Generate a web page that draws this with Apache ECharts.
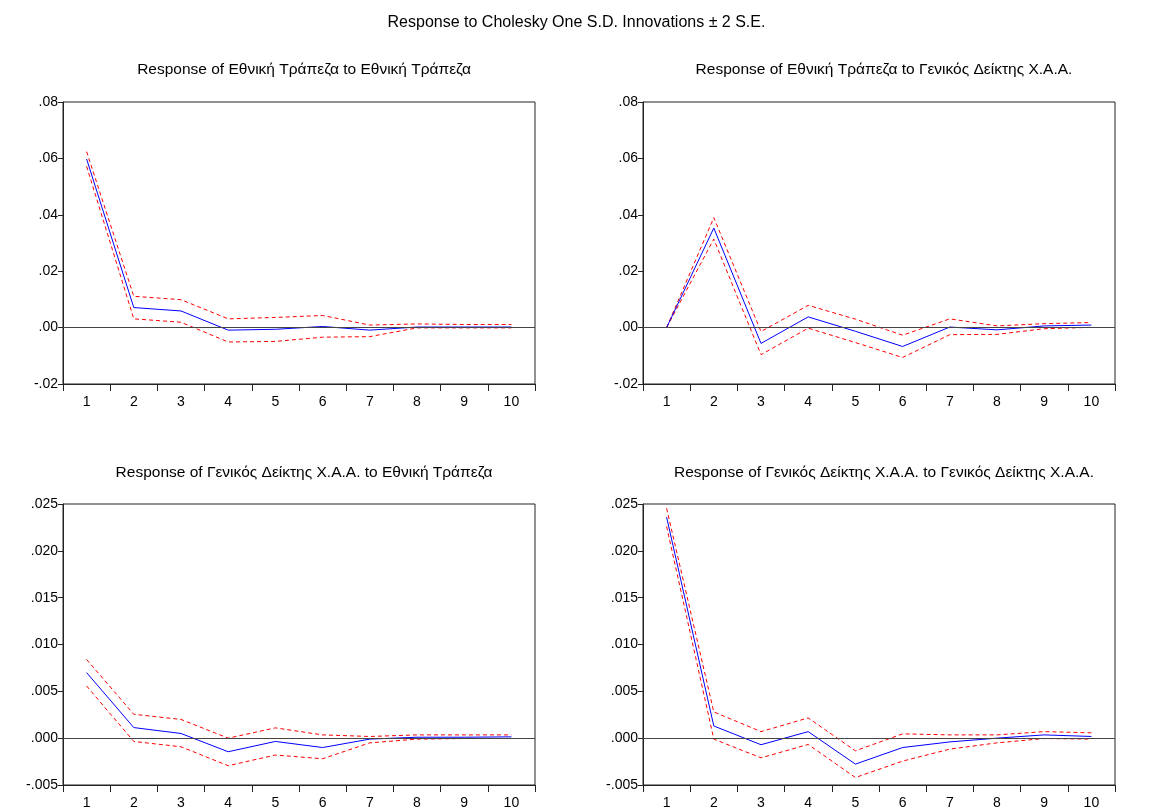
<!DOCTYPE html>
<html>
<head>
<meta charset="utf-8">
<script src="https://cdn.jsdelivr.net/npm/echarts@6/dist/echarts.min.js"></script>
<style>html,body{margin:0;padding:0;background:#fff}#c{width:1153px;height:810px}</style>
</head>
<body>
<div id="c"></div>
<script>
const periods = ['1','2','3','4','5','6','7','8','9','10'];

const mainTitle = 'Response to Cholesky One S.D. Innovations \u00b1 2 S.E.';
const panelTitles = [
  'Response of Εθνική Τράπεζα to Εθνική Τράπεζα',
  'Response of Εθνική Τράπεζα to Γενικός Δείκτης Χ.Α.Α.',
  'Response of Γενικός Δείκτης Χ.Α.Α. to Εθνική Τράπεζα',
  'Response of Γενικός Δείκτης Χ.Α.Α. to Γενικός Δείκτης Χ.Α.Α.'
];

// Panel 1: Εθνική Τράπεζα -> Εθνική Τράπεζα
const p1Resp  = [0.0598, 0.0071, 0.0059, -0.0009, -0.0006, 0.0004, -0.0009, 0.0002, 0.0002, 0.0002];
const p1Upper = [0.0624, 0.0111, 0.0099, 0.0031, 0.0036, 0.0043, 0.0009, 0.0013, 0.0011, 0.0011];
const p1Lower = [0.0572, 0.0031, 0.0019, -0.0051, -0.0049, -0.0034, -0.0032, -0.0001, -0.0001, -0.0001];

// Panel 2: Εθνική Τράπεζα -> Γενικός Δείκτης
const p2Resp  = [0.0, 0.0353, -0.0056, 0.0038, -0.0013, -0.0067, 0.0002, -0.0008, 0.0006, 0.0009];
const p2Upper = [0.0, 0.0390, -0.0014, 0.0079, 0.0030, -0.0027, 0.0031, 0.0006, 0.0014, 0.0018];
const p2Lower = [0.0, 0.0314, -0.0096, -0.0002, -0.0053, -0.0106, -0.0025, -0.0024, -0.0004, 0.0001];

// Panel 3: Γενικός Δείκτης -> Εθνική Τράπεζα
const p3Resp  = [0.0070, 0.00113, 0.0005, -0.00145, -0.00035, -0.0010, -0.0001, 0.0001, 0.0001, 0.00014];
const p3Upper = [0.0084, 0.00255, 0.0020, 0.0000, 0.0011, 0.00035, 0.00018, 0.00035, 0.00035, 0.00035];
const p3Lower = [0.00557, -0.00035, -0.00092, -0.00294, -0.0018, -0.0022, -0.0005, -0.0001, -0.00004, -0.00004];

// Panel 4: Γενικός Δείκτης -> Γενικός Δείκτης
const p4Resp  = [0.0236, 0.0013, -0.0007, 0.0007, -0.00277, -0.0010, -0.0004, 0.0000, 0.00035, 0.00018];
const p4Upper = [0.02454, 0.0028, 0.0007, 0.00216, -0.00135, 0.00046, 0.00035, 0.00035, 0.0007, 0.00057];
const p4Lower = [0.0226, -0.0001, -0.0021, -0.00067, -0.0042, -0.00245, -0.00117, -0.0005, -0.00004, -0.0001];

const yTop    = [0.08, 0.08, 0.025, 0.025];
const yBottom = [-0.02, -0.02, -0.005, -0.005];
const yStep   = [0.02, 0.02, 0.005, 0.005];
const yDigits = [2, 2, 3, 3];

const panels = [
  [p1Resp, p1Upper, p1Lower],
  [p2Resp, p2Upper, p2Lower],
  [p3Resp, p3Upper, p3Lower],
  [p4Resp, p4Upper, p4Lower]
];

const FONT = '"Liberation Sans", Arial, sans-serif';
const gridPos = [
  {left: 63, top: 102},
  {left: 643, top: 102},
  {left: 63, top: 504},
  {left: 643, top: 504}
];
const titlePos = [
  {x: 299, y: 57},
  {x: 879, y: 57},
  {x: 299, y: 460},
  {x: 879, y: 460}
];

function fmt(d) {
  return function (v) {
    let s = Number(v).toFixed(d);
    return s.replace(/^(-?)0\./, '$1.');
  };
}

const option = {
  backgroundColor: '#fff',
  animation: false,
  title: [{
    text: mainTitle, left: 'center', top: 10,
    textStyle: {fontFamily: FONT, fontSize: 16, fontWeight: 'normal', color: '#000'}
  }].concat(panelTitles.map((t, i) => ({
    text: t, left: titlePos[i].x, top: titlePos[i].y, textAlign: 'center',
    textStyle: {fontFamily: FONT, fontSize: 15.5, fontWeight: 'normal', color: '#000'}
  }))),
  grid: gridPos.map(g => ({
    left: g.left, top: g.top, width: 472, height: 282,
    show: true, borderColor: '#222', borderWidth: 1, backgroundColor: '#fff'
  })),
  xAxis: panels.map((p, i) => ({
    type: 'category', gridIndex: i, data: periods, boundaryGap: true,
    axisLine: {show: true, onZero: false, lineStyle: {color: '#222', width: 1}},
    axisTick: {show: true, inside: false, length: 7, alignWithLabel: false, lineStyle: {color: '#222'}},
    axisLabel: {fontFamily: FONT, fontSize: 14, color: '#000', margin: 11, interval: 0},
    splitLine: {show: false}
  })),
  yAxis: panels.map((p, i) => ({
    type: 'value', gridIndex: i, min: yBottom[i], max: yTop[i], interval: yStep[i],
    axisLine: {show: true, lineStyle: {color: '#222', width: 1}},
    axisTick: {show: true, inside: false, length: 5, lineStyle: {color: '#222'}},
    axisLabel: {fontFamily: FONT, fontSize: 14, color: '#000', margin: 5, formatter: fmt(yDigits[i])},
    splitLine: {show: false}
  })),
  series: []
};

panels.forEach((p, i) => {
  option.series.push({
    type: 'line', xAxisIndex: i, yAxisIndex: i, data: p[1], symbol: 'none',
    lineStyle: {color: '#ff0000', width: 1, type: [4, 3]}, z: 3
  });
  option.series.push({
    type: 'line', xAxisIndex: i, yAxisIndex: i, data: p[2], symbol: 'none',
    lineStyle: {color: '#ff0000', width: 1, type: [4, 3]}, z: 3
  });
  option.series.push({
    type: 'line', xAxisIndex: i, yAxisIndex: i, data: p[0], symbol: 'none',
    lineStyle: {color: '#0000ff', width: 1}, z: 4,
    markLine: {
      silent: true, symbol: 'none', label: {show: false},
      lineStyle: {color: '#444', width: 1, type: 'solid'},
      data: [{yAxis: 0}]
    }
  });
});

const chart = echarts.init(document.getElementById('c'), null, {renderer: 'canvas'});
chart.setOption(option);
</script>
</body>
</html>
